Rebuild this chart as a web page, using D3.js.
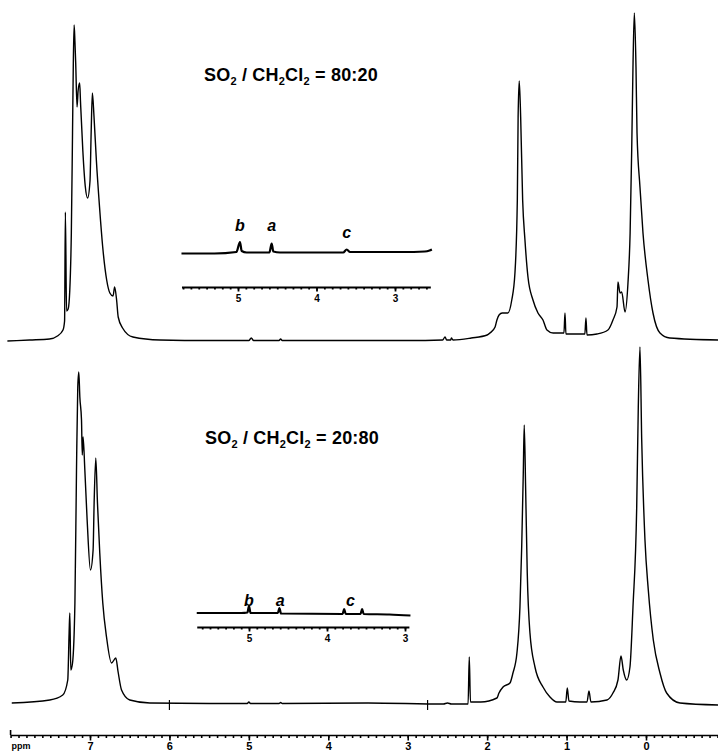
<!DOCTYPE html>
<html>
<head>
<meta charset="utf-8">
<script src="https://cdn.jsdelivr.net/npm/d3@7"></script>
<style>
body { margin: 0; background: #fff; }
svg text { font-family: "Liberation Sans", Arial, Helvetica, sans-serif; font-weight: bold; fill: #000; white-space: pre; }
</style>
</head>
<body>
<svg id="chart" width="718" height="754"></svg>
<script>
// 1H NMR traces: [ppm, intensity (a.u.)]
const spectrumTop = [
    [8.04,0],[7.76,1],[7.51,2],[7.41,5],[7.34,11],[7.32,20],[7.31,129],[7.295,30],[7.275,32],[7.255,50],
    [7.235,108],[7.22,208],[7.21,278],[7.20,316],[7.19,300],[7.18,278],[7.163,234],[7.15,250],[7.13,258],
    [7.12,240],[7.09,190],[7.06,155],[7.03,143],[7.00,160],[6.985,210],[6.97,248],[6.95,225],[6.92,181],
    [6.88,134],[6.84,94],[6.79,61],[6.75,48],[6.71,45],[6.69,54],[6.665,41],[6.645,24],[6.59,13],[6.46,4],
    [6.12,1],[5.5,0.5],[5.0,0.5],[4.97,3],[4.94,0.5],[4.62,0.5],[4.6,2],[4.58,0.5],[3.0,0.5],[2.56,1],
    [2.53,4],[2.51,1],[2.46,1],[2.45,3],[2.43,1],[2.2,3],[2.0,6],[1.965,8],[1.90,14],[1.877,21],[1.85,26],
    [1.81,28],[1.74,28],[1.69,41],[1.65,68],[1.62,141],[1.61,224],[1.596,260],[1.578,224],[1.553,141],
    [1.524,101],[1.486,64],[1.423,41],[1.36,28],[1.297,21],[1.247,11],[1.17,8],[1.058,8],[1.033,8],
    [1.02,28],[1.008,7],[0.92,7],[0.77,7],[0.756,23],[0.743,6],[0.617,7],[0.479,11],[0.416,21],[0.365,34],
    [0.353,59],[0.327,48],[0.306,49],[0.264,29],[0.227,58],[0.20,108],[0.18,191],[0.164,274],[0.147,328],
    [0.126,274],[0.113,208],[0.076,154],[0.038,108],[-0.025,61],[-0.088,28],[-0.176,8],[-0.30,3],[-0.907,1]
];
const spectrumBottom = [
    [7.985,2],[7.506,5],[7.343,10],[7.28,25],[7.263,72],[7.254,92],[7.242,35],[7.22,42],[7.19,102],
    [7.17,235],[7.154,318],[7.141,333],[7.128,308],[7.107,285],[7.097,250],[7.087,268],[7.065,235],
    [7.036,185],[6.994,135],[6.961,155],[6.948,202],[6.927,247],[6.906,202],[6.877,152],[6.839,102],
    [6.792,68],[6.729,42],[6.675,47],[6.646,33],[6.603,15],[6.499,5],[6.247,2],[5.5,1.5],[5.02,1.5],
    [5.0,3],[4.98,1.5],[4.62,1.5],[4.6,2.5],[4.58,1.5],[3.5,2],[2.55,1],[2.5,2],[2.45,1],[2.24,1],
    [2.225,48],[2.21,3],[2.08,3],[1.877,7],[1.851,12],[1.80,18],[1.713,22],[1.675,32],[1.625,52],
    [1.587,98],[1.565,158],[1.545,232],[1.533,280],[1.515,215],[1.495,132],[1.461,72],[1.398,38],
    [1.297,18],[1.209,8],[1.121,3],[1.01,3],[0.991,17],[0.97,4],[0.831,3],[0.743,3],[0.718,14],
    [0.693,3],[0.491,5],[0.416,12],[0.353,25],[0.315,49],[0.286,35],[0.243,25],[0.202,38],[0.164,98],
    [0.117,198],[0.097,298],[0.076,358],[0.054,265],[0.013,165],[-0.029,115],[-0.092,65],[-0.176,32],
    [-0.26,12],[-0.428,2],[-0.907,0]
];
// expanded 5.7 - 2.5 ppm insets
const insetTop = [
    [5.72,0],[5.3,0],[5.02,1.5],[4.975,11.5],[4.953,2.5],[4.89,1],[4.6,1],[4.571,10],[4.55,2],[4.465,1],
    [3.66,1],[3.615,4],[3.573,1.5],[2.9,1.5],[2.62,2],[2.56,3],[2.53,4]
];
const insetBottom = [
    [5.67,0],[5.1,0],[5.02,0.5],[5.0,7],[4.98,0],[4.63,0],[4.61,5],[4.59,-0.5],[3.8,-1],[3.78,4],
    [3.76,-1],[3.57,-1],[3.55,4],[3.53,-1],[3.2,-1.5],[2.93,-2.5]
];
const peakLabelsTop = [["b",4.975],["a",4.571],["c",3.615]];
const peakLabelsBottom = [["b",5.0],["a",4.6],["c",3.7]];
const ratioTop = "80:20";
const ratioBottom = "20:80";
const baselineMarks = [6.0, 2.75];

const svg = d3.select("#chart");

// main ppm scale and panel intensity scales
const x = d3.scaleLinear().domain([7, 0]).range([90, 646]);
const yTop = d3.scaleLinear().domain([0, 330]).range([341, 11]);
const yBot = d3.scaleLinear().domain([0, 330]).range([705, 375]);

const xInTop = d3.scaleLinear().domain([5, 3]).range([238, 395]);
const yInTop = d3.scaleLinear().domain([0, 10]).range([253.5, 243.5]);
const xInBot = d3.scaleLinear().domain([5, 3]).range([249, 405]);
const yInBot = d3.scaleLinear().domain([0, 10]).range([613, 603]);

function trace(data, xs, ys, width) {
    const line = d3.line()
        .x(d => xs(d[0]))
        .y(d => ys(d[1]))
        .curve(d3.curveMonotoneX);
    svg.append("path")
        .datum(data)
        .attr("d", line)
        .attr("fill", "none")
        .attr("stroke", "#000")
        .attr("stroke-width", width)
        .attr("stroke-linejoin", "round");
}

// ppm axis with 0.1 minor ticks and labelled integer ticks
function ppmAxis(scale, lo, hi, yPos, minorSize, majorSize, fontSize, labelY, width) {
    const s = scale.copy().domain([lo, hi]).range([scale(lo), scale(hi)]);
    const minor = d3.range(Math.ceil(hi * 10), Math.floor(lo * 10) + 1).map(v => v / 10);
    const major = d3.range(Math.ceil(hi), Math.ceil(lo));

    const g = svg.append("g").attr("transform", `translate(0,${yPos})`);
    g.call(d3.axisBottom(s).tickValues(minor).tickSize(minorSize).tickSizeOuter(0).tickFormat(""));
    const gm = svg.append("g").attr("transform", `translate(0,${yPos})`);
    gm.call(d3.axisBottom(s).tickValues(major).tickSize(majorSize).tickSizeOuter(0).tickFormat(d3.format("d")));
    gm.select(".domain").remove();
    gm.selectAll("text")
        .attr("y", labelY)
        .attr("dy", null)
        .attr("font-size", fontSize)
        .style("fill", "#000");
    gm.attr("font-family", null).attr("font-size", null);
    g.attr("font-family", null);
    [g, gm].forEach(a => {
        a.selectAll("line").attr("stroke", "#000").attr("stroke-width", width);
        a.select(".domain").attr("stroke", "#000").attr("stroke-width", width);
    });
    return s;
}

function title(xPos, yPos, ratio) {
    const t = svg.append("text").attr("x", xPos).attr("y", yPos)
        .attr("font-size", 18).attr("letter-spacing", 0.2);
    const parts = [["SO", 0], ["2", 1], [" / CH", 0], ["2", 1], ["Cl", 0], ["2", 1], [" = " + ratio, 0]];
    let shifted = false;
    parts.forEach(([s, sub]) => {
        const span = t.append("tspan").text(s);
        if (sub) { span.attr("font-size", 11).attr("dy", 4); shifted = true; }
        else if (shifted) { span.attr("dy", -4); shifted = false; }
    });
}

function peakLetters(labels, xs, yPos, cDrop) {
    svg.append("g").selectAll("text")
        .data(labels)
        .join("text")
        .attr("x", d => xs(d[1]))
        .attr("y", d => yPos + (d[0] === "c" ? cDrop : 0))
        .attr("text-anchor", "middle")
        .attr("font-size", 16)
        .attr("font-style", "italic")
        .text(d => d[0]);
}

// spectra
trace(spectrumTop, x, yTop, 1.4);
trace(spectrumBottom, x, yBot, 1.4);

svg.append("g").selectAll("line")
    .data(baselineMarks)
    .join("line")
    .attr("x1", d => x(d)).attr("x2", d => x(d))
    .attr("y1", yBot(0) - 5).attr("y2", yBot(0) + 5)
    .attr("stroke", "#000").attr("stroke-width", 1.2);

// insets
trace(insetTop, xInTop, yInTop, 2.2);
trace(insetBottom, xInBot, yInBot, 2.2);
ppmAxis(xInTop, 5.72, 2.55, 287, 2.5, 4.5, 10, 15, 1.8);
ppmAxis(xInBot, 5.67, 2.95, 627, 2.5, 4.5, 10, 15, 1.8);
peakLetters(peakLabelsTop, xInTop, 231, 7);
peakLetters(peakLabelsBottom, xInBot, 606, 0);

title(204, 81, ratioTop);
title(205, 444, ratioBottom);

// main ppm axis
const xs = ppmAxis(x, 8.0, -0.9, 735, 3, 5.5, 11, 15, 1.6);
svg.append("line")
    .attr("x1", xs(8.0)).attr("x2", xs(8.0))
    .attr("y1", 735).attr("y2", 730)
    .attr("stroke", "#000").attr("stroke-width", 1.6);
svg.append("text")
    .attr("x", xs(8.0) + 1)
    .attr("y", 749)
    .attr("font-size", 9)
    .text("ppm");
</script>
</body>
</html>
